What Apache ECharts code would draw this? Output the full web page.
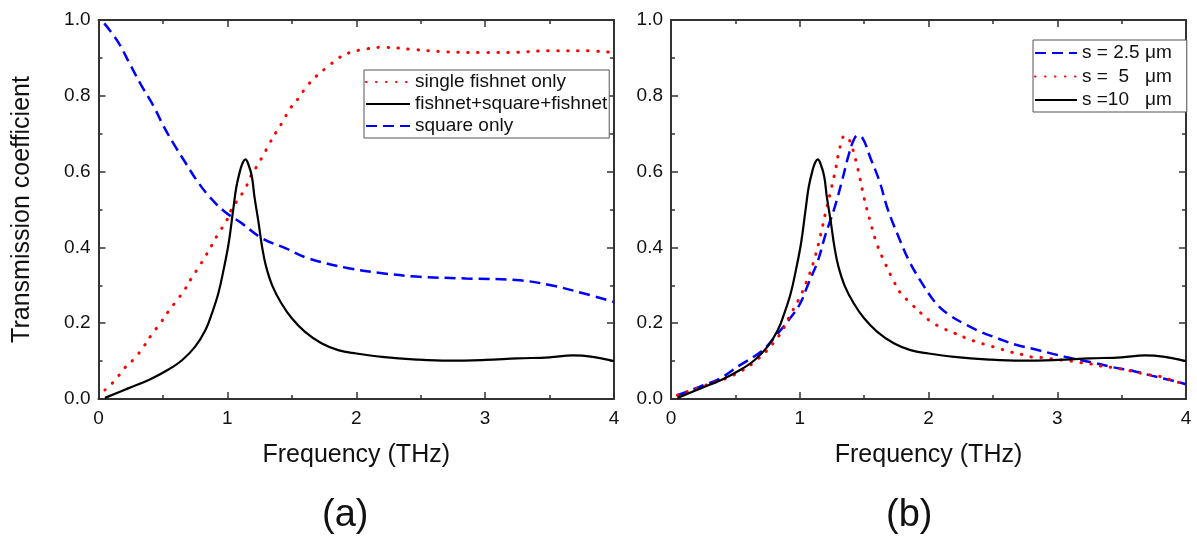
<!DOCTYPE html>
<html>
<head>
<meta charset="utf-8">
<script src="https://cdn.jsdelivr.net/npm/echarts@6/dist/echarts.min.js"></script>
<style>
  html, body { margin: 0; padding: 0; background: #fff; }
  #chart { width: 1197px; height: 540px; }
</style>
</head>
<body>
<div id="chart"></div>
<script>
// ---------- data ----------
// Panel (a): single fishnet only (red dotted)
const fishnetFreq = [0.05,0.13,0.2,0.28,0.35,0.41,0.48,0.54,0.61,0.67,0.72,0.78,0.83,0.88,0.93,0.99,1.03,1.08,1.14,1.18,1.23,1.28,1.32,1.38,1.43,1.48,1.55,1.61,1.69,1.78,1.86,1.95,2.05,2.2,2.45,2.7,3.0,3.25,3.5,3.75,4.0];
const fishnetT    = [0.024,0.05,0.081,0.107,0.138,0.169,0.2,0.23,0.261,0.289,0.318,0.349,0.377,0.406,0.437,0.468,0.499,0.525,0.556,0.587,0.615,0.644,0.67,0.705,0.732,0.763,0.793,0.822,0.852,0.877,0.899,0.914,0.922,0.928,0.922,0.916,0.914,0.915,0.919,0.919,0.914];

// Panel (a): square only (blue dashed)
const squareFreq = [0.045,0.15,0.24,0.33,0.43,0.5,0.58,0.67,0.76,0.86,0.98,1.11,1.27,1.45,1.63,1.94,2.2,2.47,2.85,3.24,3.5,3.76,4.0];
const squareT    = [0.991,0.943,0.886,0.829,0.771,0.723,0.675,0.626,0.578,0.534,0.494,0.464,0.424,0.398,0.371,0.345,0.332,0.323,0.318,0.314,0.301,0.279,0.256];

// fishnet+square+fishnet (black solid) = s = 10 um in panel (b)
const combinedFreq = [0.05,0.23,0.39,0.54,0.65,0.75,0.83,0.88,0.93,0.97,1.01,1.045,1.07,1.1,1.12,1.14,1.16,1.19,1.21,1.24,1.27,1.3,1.35,1.42,1.5,1.6,1.73,1.86,2.0,2.2,2.47,2.72,3.0,3.25,3.5,3.68,3.82,4.0];
const combinedT    = [0.003,0.028,0.05,0.077,0.103,0.138,0.182,0.226,0.279,0.34,0.411,0.499,0.56,0.604,0.624,0.632,0.622,0.587,0.534,0.47,0.4,0.35,0.298,0.252,0.213,0.178,0.147,0.129,0.12,0.111,0.104,0.101,0.103,0.107,0.11,0.115,0.112,0.1];

// Panel (b): s = 2.5 um (blue dashed)
const s25Freq = [0.05,0.22,0.375,0.53,0.71,0.815,0.92,1.0,1.07,1.14,1.2,1.27,1.33,1.38,1.42,1.45,1.49,1.55,1.62,1.68,1.76,1.85,1.96,2.06,2.16,2.27,2.4,2.53,2.68,2.84,2.99,3.12,3.28,3.43,3.59,3.74,3.9,4.0];
const s25T    = [0.01,0.032,0.053,0.088,0.128,0.167,0.211,0.25,0.307,0.364,0.434,0.504,0.578,0.644,0.684,0.695,0.687,0.635,0.574,0.504,0.434,0.364,0.3,0.252,0.222,0.2,0.178,0.161,0.143,0.13,0.117,0.107,0.096,0.084,0.074,0.061,0.048,0.039];

// Panel (b): s = 5 um (red dotted)
const s5Freq = [0.05,0.3,0.48,0.66,0.83,0.93,1.0,1.06,1.11,1.16,1.2,1.24,1.28,1.31,1.35,1.39,1.45,1.5,1.55,1.6,1.66,1.73,1.78,1.87,1.95,2.02,2.11,2.2,2.29,2.38,2.46,2.55,2.64,2.73,2.82,2.9,2.99,3.07,3.16,3.25,3.34,3.43,3.51,3.6,3.69,3.78,3.87,3.95,4.0];
const s5T    = [0.01,0.04,0.062,0.101,0.163,0.224,0.268,0.316,0.364,0.43,0.491,0.548,0.609,0.661,0.695,0.68,0.609,0.53,0.465,0.408,0.36,0.311,0.281,0.25,0.224,0.204,0.187,0.174,0.161,0.15,0.142,0.133,0.124,0.117,0.11,0.109,0.104,0.102,0.097,0.093,0.087,0.083,0.078,0.072,0.065,0.061,0.052,0.043,0.038];

const xTickLabels = ['0','1','2','3','4'];
const yTickLabels = ['0.0','0.2','0.4','0.6','0.8','1.0'];
const xTitle = 'Frequency (THz)';
const yTitle = 'Transmission coefficient';
const panelLabels = ['(a)', '(b)'];
const legendA = ['single fishnet only', 'fishnet+square+fishnet', 'square only'];
const legendB = ['s = 2.5 μm', 's =  5 μm', 's =10 μm'];

// ---------- chart ----------
const FONT = "'Liberation Sans', Arial, sans-serif";
const AX = '#333';
const zip = (xs, ys) => xs.map((x, i) => [x, ys[i]]);

function xAxisPair(gridIndex) {
  const base = {
    gridIndex, type: 'value', min: 0, max: 4, interval: 1,
    splitLine: { show: false },
    axisLine: { show: true, onZero: false, lineStyle: { color: AX, width: 2 } },
    axisTick: { show: true, inside: true, length: 7, lineStyle: { color: AX, width: 1.5 } },
    minorTick: { show: true, splitNumber: 2, length: 4, lineStyle: { color: AX, width: 1.5 } },
    minorSplitLine: { show: false }
  };
  return [
    Object.assign({}, base, {
      position: 'bottom',
      axisLabel: { fontSize: 19, fontFamily: FONT, color: '#111', margin: 10,
                   formatter: v => xTickLabels[Math.round(v)] },
      name: xTitle, nameLocation: 'middle', nameGap: 44,
      nameTextStyle: { fontSize: 25, fontFamily: FONT, color: '#111' }
    }),
    Object.assign({}, base, { position: 'top', axisLabel: { show: false } })
  ];
}
function yAxisPair(gridIndex, withTitle) {
  const base = {
    gridIndex, type: 'value', min: 0, max: 1, interval: 0.2,
    splitLine: { show: false },
    axisLine: { show: true, onZero: false, lineStyle: { color: AX, width: 2 } },
    axisTick: { show: true, inside: true, length: 7, lineStyle: { color: AX, width: 1.5 } },
    minorTick: { show: true, splitNumber: 2, length: 4, lineStyle: { color: AX, width: 1.5 } },
    minorSplitLine: { show: false }
  };
  const left = Object.assign({}, base, {
    position: 'left',
    axisLabel: { fontSize: 19, fontFamily: FONT, color: '#111', margin: 8,
                 formatter: v => yTickLabels[Math.round(v * 5)] }
  });
  if (withTitle) {
    Object.assign(left, {
      name: yTitle, nameLocation: 'middle', nameGap: 64,
      nameTextStyle: { fontSize: 25, fontFamily: FONT, color: '#111' }
    });
  }
  return [left, Object.assign({}, base, { position: 'right', axisLabel: { show: false } })];
}

const RED = '#ff0000', BLUE = '#0000ff', BLACK = '#000000';
const dotted = { color: RED, width: 3, type: [0.5, 9.5], cap: 'round' };
const dashed = { color: BLUE, width: 2.5, type: [11, 6] };
const solid  = { color: BLACK, width: 2.2, type: 'solid' };

function line(name, xi, yi, data, style) {
  return {
    name, type: 'line', xAxisIndex: xi, yAxisIndex: yi, data,
    symbol: 'none', smooth: 0.4,
    lineStyle: style, itemStyle: { color: style.color }, z: 3
  };
}

const legendCommon = {
  orient: 'vertical', selectedMode: false,
  borderColor: '#555', borderWidth: 1, backgroundColor: '#fff',
  itemStyle: { opacity: 0, borderWidth: 0 }
};

const chart = echarts.init(document.getElementById('chart'), null, { renderer: 'canvas' });
chart.setOption({
  animation: false,
  backgroundColor: '#fff',
  grid: [
    { left: 98.5, top: 20, width: 515.5, height: 379 },
    { left: 671, top: 20, width: 515, height: 379 }
  ],
  xAxis: [...xAxisPair(0), ...xAxisPair(1)],
  yAxis: [...yAxisPair(0, true), ...yAxisPair(1, false)],
  legend: [
    Object.assign({}, legendCommon, {
      data: legendA, left: 364, top: 70,
      itemWidth: 44, itemHeight: 20, itemGap: 2, padding: [2, 2, 2, 1],
      textStyle: { fontSize: 19, fontFamily: FONT, color: '#111', lineHeight: 20 }
    }),
    Object.assign({}, legendCommon, {
      data: legendB, left: 1033, top: 40,
      itemWidth: 42, itemHeight: 20, itemGap: 3.5, padding: [3, 15, 2, 1],
      formatter: name => {
        const parts = name.split(' μm');
        return '{a|' + parts[0] + '}{b|μm}';
      },
      textStyle: {
        fontSize: 19, fontFamily: FONT, color: '#111', lineHeight: 20,
        rich: {
          a: { width: 63, fontSize: 19, fontFamily: FONT, color: '#111' },
          b: { fontSize: 19, fontFamily: FONT, color: '#111' }
        }
      }
    })
  ],
  graphic: [
    { type: 'text', left: 346 - 24, top: 497,
      style: { text: panelLabels[0], font: "38px " + FONT, fill: '#111' } },
    { type: 'text', left: 911 - 25, top: 497,
      style: { text: panelLabels[1], font: "38px " + FONT, fill: '#111' } }
  ],
  series: [
    line(legendA[0], 0, 0, zip(fishnetFreq, fishnetT), dotted),
    line(legendA[1], 0, 0, zip(combinedFreq, combinedT), solid),
    line(legendA[2], 0, 0, zip(squareFreq, squareT), dashed),
    line(legendB[0], 2, 2, zip(s25Freq, s25T), dashed),
    line(legendB[1], 2, 2, zip(s5Freq, s5T), dotted),
    line(legendB[2], 2, 2, zip(combinedFreq, combinedT), solid)
  ]
});
</script>
</body>
</html>
